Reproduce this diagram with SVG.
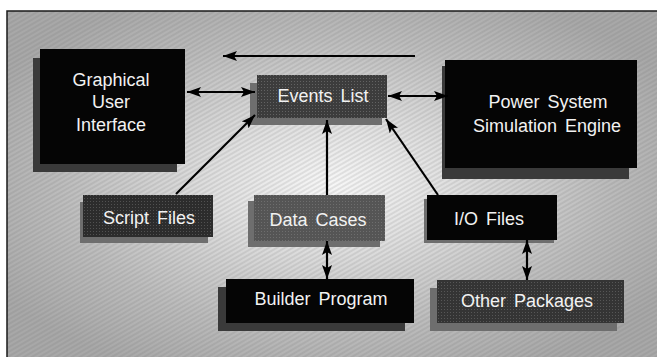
<svg xmlns="http://www.w3.org/2000/svg" width="657" height="357" viewBox="0 0 657 357">
  <defs>
    <radialGradient id="bg" cx="0.5" cy="0.5" r="0.6" gradientUnits="objectBoundingBox">
      <stop offset="0" stop-color="#f7f7f7"/>
      <stop offset="0.3" stop-color="#e0e0e0"/>
      <stop offset="0.7" stop-color="#bcbcbc"/>
      <stop offset="1" stop-color="#a8a8a8"/>
    </radialGradient>
    <pattern id="tex" width="4" height="4" patternUnits="userSpaceOnUse" patternTransform="rotate(-30)">
      <line x1="0" y1="1" x2="4" y2="1" stroke="#666" stroke-width="1"/>
    </pattern>
    <pattern id="dots" width="3" height="3" patternUnits="userSpaceOnUse">
      <rect x="0" y="0" width="1" height="1" fill="#888"/>
    </pattern>
    <marker id="ah" viewBox="0 0 14 10" refX="14" refY="5" markerWidth="14" markerHeight="10" markerUnits="userSpaceOnUse" orient="auto-start-reverse">
      <path d="M0,0 L14,5 L0,10 L3,5 z" fill="#000"/>
    </marker>
  </defs>
  <style>
    .lbl { font-family: "Liberation Sans", Arial, sans-serif; font-size: 18px; fill: #f2f2f2; text-anchor: middle; word-spacing: 3px; }
    .blk { fill: #050505; }
    .shd { fill: #3a3a3a; }
    .shl { fill: #6e6e6e; }
    .grey { fill: #3c3c3c; }
    .conn line { stroke: #000; stroke-width: 2.2; fill: none; }
  </style>

  <rect x="0" y="0" width="657" height="357" fill="#fff"/>
  <rect x="7" y="11" width="650" height="346" fill="url(#bg)"/>
  <rect x="7" y="11" width="650" height="346" fill="url(#tex)" opacity="0.28"/>
  <path d="M7,357 L7,11 L657,11" fill="none" stroke="#1a1a1a" stroke-width="1.5"/>

  <g id="gui">
    <rect class="shd" x="33" y="58" width="144" height="114"/>
    <rect class="blk" x="40" y="49" width="145" height="115"/>
    <text class="lbl" x="111" y="86">Graphical</text>
    <text class="lbl" x="111" y="108">User</text>
    <text class="lbl" x="111" y="131">Interface</text>
  </g>

  <g id="events">
    <rect class="shl" x="250" y="83" width="132" height="42"/>
    <rect class="grey" x="257" y="75" width="130" height="43"/>
    <rect x="257" y="75" width="130" height="43" fill="url(#dots)" opacity="0.5"/>
    <text class="lbl" x="323" y="102">Events List</text>
  </g>

  <g id="power">
    <rect class="shd" x="442" y="66" width="187" height="113"/>
    <rect class="blk" x="445" y="60" width="192" height="108"/>
    <text class="lbl" x="548" y="108">Power System</text>
    <text class="lbl" x="547" y="132">Simulation Engine</text>
  </g>

  <g id="script">
    <rect class="shl" x="80" y="202" width="128" height="41"/>
    <rect fill="#2c2c2c" x="83" y="195" width="130" height="42"/>
    <rect x="83" y="195" width="130" height="42" fill="url(#dots)" opacity="0.4"/>
    <text class="lbl" x="149" y="224">Script Files</text>
  </g>

  <g id="data">
    <rect class="shl" x="248" y="201" width="132" height="46"/>
    <rect fill="#555" x="254" y="195" width="131" height="46"/>
    <rect x="254" y="195" width="131" height="46" fill="url(#dots)" opacity="0.5"/>
    <text class="lbl" x="318" y="226">Data Cases</text>
  </g>

  <g id="builder">
    <rect class="shd" x="218" y="287" width="187" height="44"/>
    <rect class="blk" x="226" y="279" width="188" height="44"/>
    <text class="lbl" x="321" y="305">Builder Program</text>
  </g>

  <g id="io">
    <rect class="shl" x="424" y="199" width="130" height="44"/>
    <rect class="blk" x="427" y="195" width="130" height="45"/>
    <text class="lbl" x="489" y="225">I/O Files</text>
  </g>

  <g id="other">
    <rect class="shl" x="430" y="288" width="187" height="43"/>
    <rect fill="#343434" x="437" y="280" width="187" height="43"/>
    <rect x="437" y="280" width="187" height="43" fill="url(#dots)" opacity="0.4"/>
    <text class="lbl" x="527" y="307">Other Packages</text>
  </g>

  <g id="connectors" class="conn">
    <line x1="415" y1="56" x2="223" y2="56" marker-end="url(#ah)"/>
    <line x1="187" y1="92" x2="255" y2="92" marker-start="url(#ah)" marker-end="url(#ah)"/>
    <line x1="388" y1="96" x2="448" y2="96" marker-start="url(#ah)" marker-end="url(#ah)"/>
    <line x1="176" y1="194" x2="255" y2="115" marker-end="url(#ah)"/>
    <line x1="327" y1="195" x2="327" y2="120" marker-end="url(#ah)"/>
    <line x1="438" y1="195" x2="386" y2="119" marker-end="url(#ah)"/>
    <line x1="327" y1="241" x2="327" y2="279" marker-start="url(#ah)" marker-end="url(#ah)"/>
    <line x1="527" y1="240" x2="527" y2="280" marker-start="url(#ah)" marker-end="url(#ah)"/>
  </g>
</svg>
